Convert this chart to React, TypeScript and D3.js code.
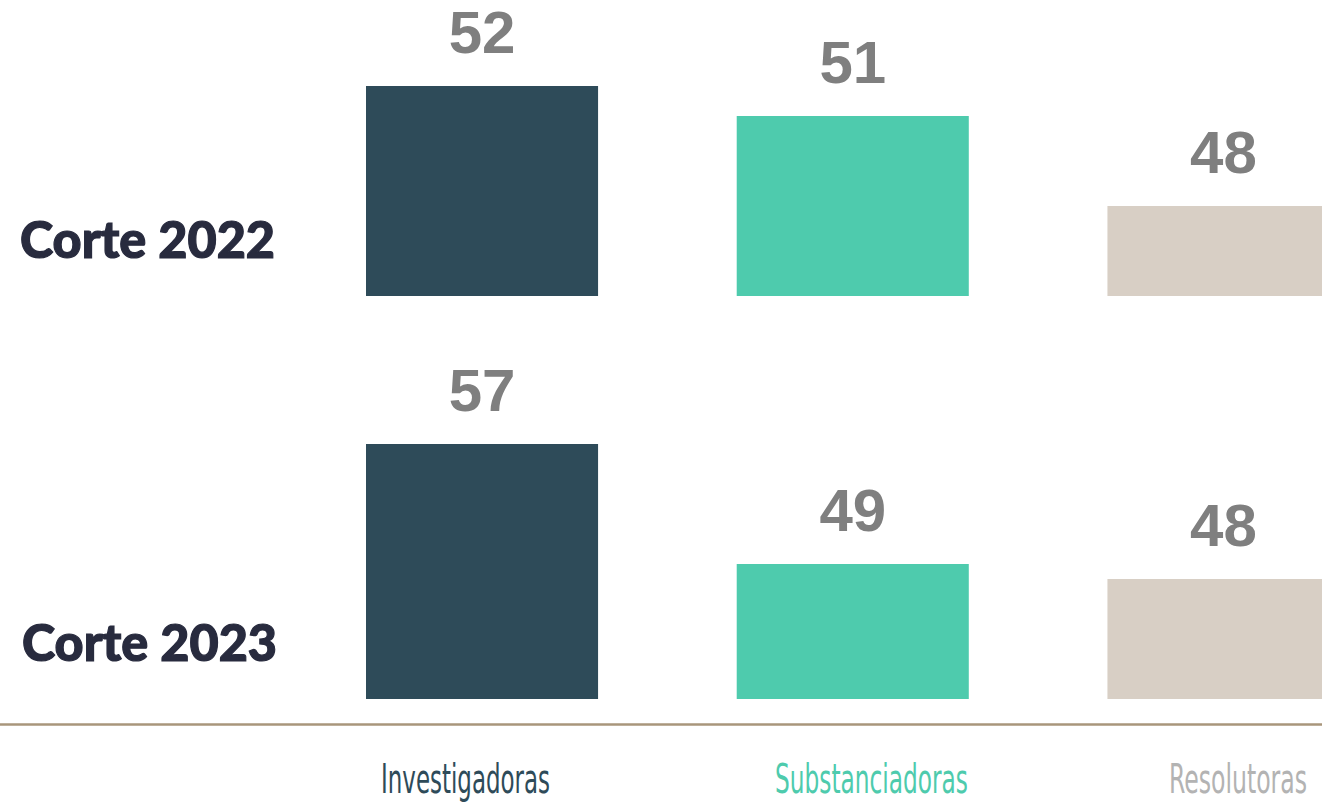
import React, { useRef, useEffect } from "react";
import * as d3 from "d3";

// categories and per-cohort values
const categories = ["Investigadoras", "Substanciadoras", "Resolutoras"];
const rowLabels = ["Corte 2022", "Corte 2023"];
const values2022 = [52, 51, 48];
const values2023 = [57, 49, 48];
// axis minimum used by each cohort's panel
const rowMins = [45, 40];

const barColors = ["#2e4b59", "#4ecbad", "#d8cfc5"];
const labelColors = ["#2e4b59", "#4ecbad", "#b3b3b3"];

const WIDTH = 1322;
const HEIGHT = 804;

const App = () => {
  const svgRef = useRef<SVGSVGElement | null>(null);

  useEffect(() => {
    const svg = d3.select(svgRef.current);
    svg.selectAll("*").remove();

    const x = d3
      .scaleBand<string>()
      .domain(categories)
      .range([366, 1339.5])
      .paddingInner(0.374)
      .paddingOuter(0);

    // each row is its own little panel: baseline, top of tallest bar
    const rows = [
      { label: rowLabels[0], values: values2022, base: 296, top: 86, min: rowMins[0], lx: 20 },
      { label: rowLabels[1], values: values2023, base: 699, top: 444, min: rowMins[1], lx: 22 },
    ];

    rows.forEach((row) => {
      const y = d3
        .scaleLinear()
        .domain([row.min, d3.max(row.values) as number])
        .range([row.base, row.top]);

      const g = svg.append("g");
      const data = categories.map((c, i) => ({ cat: c, v: row.values[i], i }));

      g.selectAll("rect.bar")
        .data(data)
        .join("rect")
        .attr("class", "bar")
        .attr("x", (d) => x(d.cat)!)
        .attr("y", (d) => y(d.v))
        .attr("width", x.bandwidth())
        .attr("height", (d) => row.base - y(d.v))
        .attr("fill", (d) => barColors[d.i]);

      g.selectAll("text.val")
        .data(data)
        .join("text")
        .attr("class", "val")
        .attr("x", (d) => x(d.cat)! + x.bandwidth() / 2)
        .attr("y", (d) => y(d.v) - 33)
        .attr("text-anchor", "middle")
        .attr("font-family", "'Liberation Sans', Arial, sans-serif")
        .attr("font-weight", "bold")
        .attr("font-size", 60)
        .attr("fill", "#7f7f7f")
        .text((d) => d.v);

      g.append("text")
        .attr("x", row.lx)
        .attr("y", row.base - 38)
        .attr("font-family", "Lato, 'Noto Sans', sans-serif")
        .attr("font-weight", 900)
        .attr("font-size", 51)
        .attr("fill", "#282b3e")
        .attr("stroke", "#282b3e")
        .attr("stroke-width", 1.2)
        .attr("textLength", 255)
        .attr("lengthAdjust", "spacingAndGlyphs")
        .text(row.label);
    });

    // bottom rule
    svg
      .append("line")
      .attr("x1", 0)
      .attr("x2", WIDTH)
      .attr("y1", 724.5)
      .attr("y2", 724.5)
      .attr("stroke", "#a8967b")
      .attr("stroke-width", 2.5);

    // category labels sit a little off the bar centres in the original
    const labelBox = [
      [381, 550],
      [775, 968],
      [1169, 1307],
    ];
    svg
      .append("g")
      .selectAll("text")
      .data(categories)
      .join("text")
      .attr("x", (d, i) => labelBox[i][1])
      .attr("y", 793)
      .attr("text-anchor", "end")
      .attr("font-family", "'DejaVu Sans Condensed', 'Liberation Sans Narrow', sans-serif")
      .attr("font-stretch", "condensed")
      .attr("font-size", 41)
      .attr("fill", (d, i) => labelColors[i])
      .attr("textLength", (d, i) => labelBox[i][1] - labelBox[i][0])
      .attr("lengthAdjust", "spacingAndGlyphs")
      .text((d) => d);
  }, []);

  return (
    <div style={{ position: "absolute", left: 0, top: 0, width: WIDTH, height: HEIGHT, overflow: "hidden", background: "#fff" }}>
      <svg ref={svgRef} width={WIDTH} height={HEIGHT} />
    </div>
  );
};

export default App;
